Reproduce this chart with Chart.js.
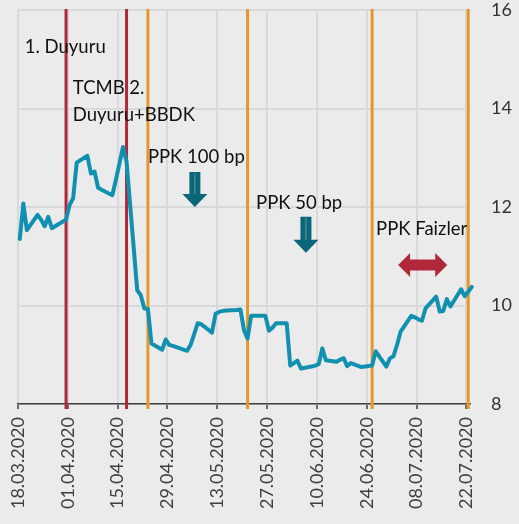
<!DOCTYPE html>
<html><head><meta charset="utf-8">
<script src="https://cdn.jsdelivr.net/npm/chart.js@4.4.0/dist/chart.umd.min.js"></script>
<style>html,body{margin:0;padding:0;background:#ebebeb;}#wrap{width:519px;height:524px;}</style>
</head><body><div id="wrap"><canvas id="c" width="519" height="524"></canvas></div>
<script>
// ---- data ----
const year = 2020;
const startLabel = '18.03.2020';
const dates = ['18.03','19.03','20.03','23.03','24.03','25.03','26.03','27.03','30.03','31.03',
 '01.04','02.04','03.04','06.04','07.04','08.04','09.04','10.04','13.04','14.04','15.04','16.04','17.04',
 '20.04','21.04','22.04','23.04','24.04','27.04','28.04','29.04','30.04',
 '04.05','05.05','06.05','07.05','08.05','11.05','12.05','13.05','14.05','15.05','18.05','19.05','20.05','21.05','22.05',
 '25.05','26.05','27.05','28.05','29.05',
 '01.06','02.06','03.06','04.06','05.06','08.06','09.06','10.06','11.06','12.06','15.06','16.06','17.06','18.06','19.06',
 '22.06','23.06','24.06','25.06','26.06','29.06','30.06',
 '01.07','02.07','03.07','06.07','07.07','08.07','09.07','10.07','13.07','14.07','15.07','16.07','17.07','20.07','21.07','22.07','23.07'];
const values = [11.35,12.07,11.53,11.84,11.74,11.61,11.80,11.57,11.70,11.74,
 12.04,12.18,12.90,13.04,12.68,12.72,12.39,12.35,12.24,12.55,12.88,13.22,12.92,
 10.31,10.21,9.94,9.93,9.23,9.10,9.31,9.20,9.18,
 9.08,9.20,9.42,9.64,9.62,9.45,9.83,9.87,9.89,9.90,9.91,9.92,9.50,9.33,9.79,
 9.79,9.79,9.49,9.55,9.64,
 9.64,8.78,8.83,8.88,8.72,8.76,8.78,8.81,9.13,8.89,8.86,8.90,8.93,8.77,8.83,
 8.75,8.76,8.77,8.78,9.07,8.76,8.93,
 8.97,9.20,9.47,9.79,9.76,9.72,9.69,9.94,10.18,9.88,9.89,10.13,9.98,10.33,10.19,10.28,10.38];
const tickLabels = ['18.03.2020','01.04.2020','15.04.2020','29.04.2020','13.05.2020','27.05.2020','10.06.2020','24.06.2020','08.07.2020','22.07.2020'];
const yTicks = [8,10,12,14,16];
const announceDates = ['31.03','17.04'];          // red lines
const mpcDates = ['23.04','21.05','25.06','22.07']; // orange lines
const annoTexts = ['1. Duyuru','TCMB 2.','Duyuru+BBDK','PPK 100 bp','PPK 50 bp','PPK Faizler'];
const annoX = [1.9,15.4,15.4,36.5,66.9,100.6];
const annoY = [15.25,14.42,13.87,13.02,12.08,11.55];
const cutArrowX = [49.7,80.9];
const cutArrowTop = [12.71,11.80];
const cutArrowBottom = [12.0,11.07];
const rangeArrowFrom = 106.8, rangeArrowTo = 120.6, rangeArrowY = 10.82;

// ---- helpers ----
function dayOf(s){
  const p = s.split('.');
  const yy = p[2] ? +p[2] : year;
  const s0 = startLabel.split('.');
  return (Date.UTC(yy,+p[1]-1,+p[0]) - Date.UTC(+s0[2],+s0[1]-1,+s0[0]))/86400000;
}
const tickDays = tickLabels.map(dayOf);
const points = dates.map((d,i)=>({x: dayOf(d)+0.5, y: values[i]}));

const TEAL='#1190b0', RED='#b1283a', ORANGE='#e1992f', ARROW='#0b6679', TXT='#111111';

const overlay = {
  id:'overlay',
  beforeDatasetsDraw(chart){
    const {ctx, chartArea:a, scales:{x}} = chart;
    ctx.save();
    ctx.lineWidth = 3;
    const line = (d,c)=>{ const px = x.getPixelForValue(dayOf(d)+0.5); ctx.strokeStyle=c; ctx.beginPath(); ctx.moveTo(px,a.top-1); ctx.lineTo(px,a.bottom+5); ctx.stroke(); };
    announceDates.forEach(d=>line(d,RED));
    mpcDates.forEach(d=>line(d,ORANGE));
    ctx.restore();
  },
  afterDatasetsDraw(chart){
    const {ctx, scales:{x,y}} = chart;
    ctx.save();
    ctx.font = '18.5px Lato';
    ctx.fillStyle = TXT;
    ctx.textBaseline = 'middle';
    ctx.textAlign = 'left';
    annoTexts.forEach((t,i)=>ctx.fillText(t, x.getPixelForValue(annoX[i]), y.getPixelForValue(annoY[i])));
    // cut arrows
    ctx.fillStyle = ARROW;
    cutArrowX.forEach((d,i)=>{
      const cx = x.getPixelForValue(d), t = y.getPixelForValue(cutArrowTop[i]), b = y.getPixelForValue(cutArrowBottom[i]);
      const sw=5.5, hw=12.5, hh=13;
      ctx.beginPath();
      ctx.moveTo(cx-sw,t); ctx.lineTo(cx+sw,t); ctx.lineTo(cx+sw,b-hh); ctx.lineTo(cx+hw,b-hh);
      ctx.lineTo(cx,b); ctx.lineTo(cx-hw,b-hh); ctx.lineTo(cx-sw,b-hh); ctx.closePath(); ctx.fill();
      ctx.strokeStyle='rgba(255,255,255,0.35)'; ctx.lineWidth=1;
      ctx.beginPath(); ctx.moveTo(cx,t+1); ctx.lineTo(cx,b-hh); ctx.stroke();
    });
    // range arrow
    const l = x.getPixelForValue(rangeArrowFrom), r = x.getPixelForValue(rangeArrowTo), cy = y.getPixelForValue(rangeArrowY);
    const hl=12, hh=12, sh=5.5;
    ctx.fillStyle = RED;
    ctx.beginPath();
    ctx.moveTo(l,cy); ctx.lineTo(l+hl,cy-hh); ctx.lineTo(l+hl,cy-sh); ctx.lineTo(r-hl,cy-sh); ctx.lineTo(r-hl,cy-hh);
    ctx.lineTo(r,cy); ctx.lineTo(r-hl,cy+hh); ctx.lineTo(r-hl,cy+sh); ctx.lineTo(l+hl,cy+sh); ctx.lineTo(l+hl,cy+hh);
    ctx.closePath(); ctx.fill();
    ctx.restore();
  }
};

Chart.defaults.font.family = 'Lato';
new Chart(document.getElementById('c'), {
  type:'line',
  data:{ datasets:[{ data: points, borderColor: TEAL, borderWidth: 4, pointRadius: 0, tension: 0, clip: false, borderJoinStyle:'round', borderCapStyle:'round' }]},
  options:{
    responsive:false, animation:false,
    layout:{ padding:{ left:18, top:10, right:0, bottom:0 } },
    plugins:{ legend:{display:false}, tooltip:{enabled:false} },
    scales:{
      x:{
        type:'linear', min:0, max:127,
        afterBuildTicks(s){ s.ticks = tickDays.map(v=>({value:v})); },
        afterFit(s){ s.height = 120; s.paddingLeft = 0; s.paddingRight = 0; },
        grid:{ color:'#d9d9d9', lineWidth:2, tickColor:'#404040', tickLength:5, tickWidth:1.5 },
        border:{ color:'#404040', width:1.5 },
        ticks:{ autoSkip:false, minRotation:90, maxRotation:90, padding:8, color:'#404040', font:{size:18},
          callback:(v)=>{ const i = tickDays.indexOf(v); return i>=0 ? tickLabels[i] : ''; } }
      },
      y:{
        position:'right', min:8, max:16,
        afterBuildTicks(s){ s.ticks = yTicks.map(v=>({value:v})); },
        afterFit(s){ s.width = 49; s.paddingTop = 0; s.paddingBottom = 0; },
        grid:{ color:'#d9d9d9', lineWidth:2, drawTicks:false },
        border:{ display:false },
        ticks:{ padding:21, color:'#333333', font:{size:18} }
      }
    }
  },
  plugins:[overlay]
});
</script></body></html>
